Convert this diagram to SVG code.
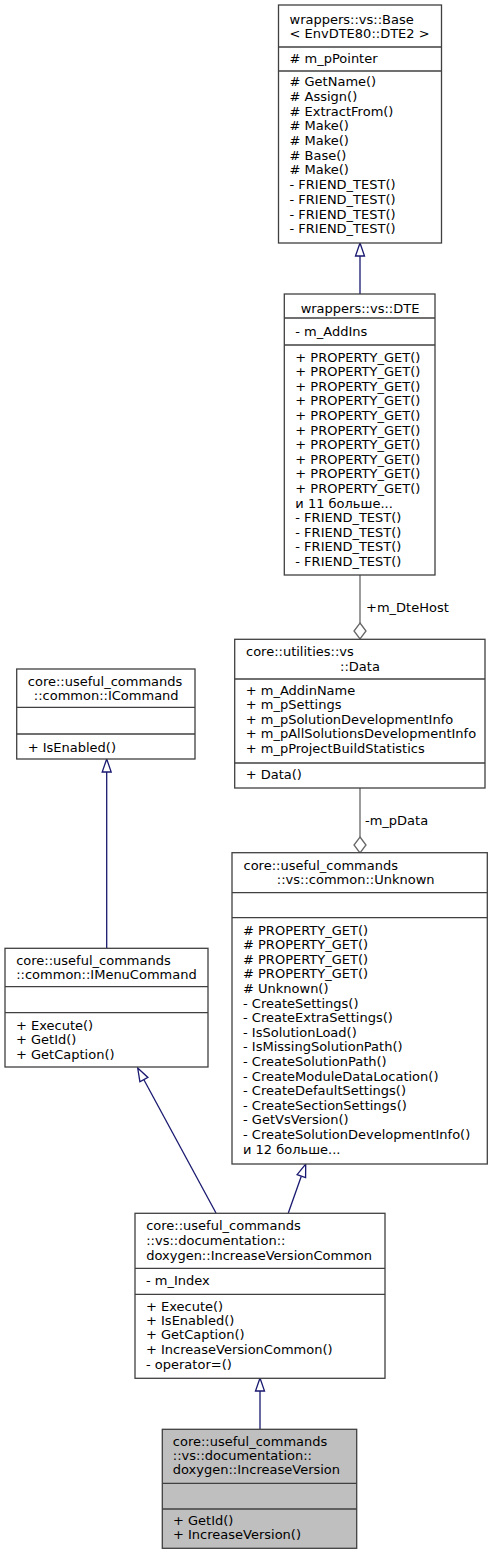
<svg xmlns="http://www.w3.org/2000/svg" width="493" height="1555" viewBox="0 0 493 1555">
<style>
text{font-family:"DejaVu Sans","Liberation Sans",sans-serif;font-size:13px;fill:#000}
.box{fill:#fff;stroke:#404040;stroke-width:1.3}
.cur{fill:#bfbfbf;stroke:#404040;stroke-width:1.3}
.sep{stroke:#404040;stroke-width:1.3}
.inh{stroke:#191970;stroke-width:1.3;fill:none}
.tri{stroke:#191970;stroke-width:1.3;fill:#fff}
.agg{stroke:#666;stroke-width:1.3;fill:none}
.dia{stroke:#666;stroke-width:1.3;fill:#fff}
.m{text-anchor:middle}
</style>
<rect width="493" height="1555" fill="#fff"/>
<g id="connectors">
<line class="inh" x1="360" y1="256" x2="360" y2="294"/>
<polygon class="tri" points="360,243 355.5,256 364.5,256"/>
<line class="agg" x1="360" y1="575" x2="360" y2="623"/>
<polygon class="dia" points="360,623 366,631 360,639 354,631"/>
<text x="366" y="611.5">+m_DteHost</text>
<line class="agg" x1="360" y1="788" x2="360" y2="837"/>
<polygon class="dia" points="360,837 366,845 360,853 354,845"/>
<text x="365" y="824.5">-m_pData</text>
<line class="inh" x1="106.7" y1="772" x2="106.7" y2="948"/>
<polygon class="tri" points="106.7,759 102.2,772 111.2,772"/>
<line class="inh" x1="216" y1="1213" x2="143.9" y2="1079.7"/>
<polygon class="tri" points="137.7,1068 147.9,1077.4 139.9,1081.7"/>
<line class="inh" x1="288.3" y1="1213" x2="301.3" y2="1176.2"/>
<polygon class="tri" points="305.7,1164 305.6,1177.7 297.1,1174.7"/>
<line class="inh" x1="260" y1="1391" x2="260" y2="1429"/>
<polygon class="tri" points="260,1378 255.5,1391 264.5,1391"/>
</g>
<g id="node-base">
<rect class="box" x="278.5" y="5" width="163" height="238"/>
<line class="sep" x1="278.5" y1="47" x2="441.5" y2="47"/>
<line class="sep" x1="278.5" y1="71" x2="441.5" y2="71"/>
<text x="289.5" y="23.5">wrappers::vs::Base</text>
<text x="289.5" y="38">&lt; EnvDTE80::DTE2 &gt;</text>
<text x="289.5" y="62.5"># m_pPointer</text>
<text x="289.5" y="86.2"># GetName()</text>
<text x="289.5" y="100.9"># Assign()</text>
<text x="289.5" y="115.6"># ExtractFrom()</text>
<text x="289.5" y="130.3"># Make()</text>
<text x="289.5" y="145"># Make()</text>
<text x="289.5" y="159.7"># Base()</text>
<text x="289.5" y="174.4"># Make()</text>
<text x="289.5" y="189.1">- FRIEND_TEST()</text>
<text x="289.5" y="203.8">- FRIEND_TEST()</text>
<text x="289.5" y="218.5">- FRIEND_TEST()</text>
<text x="289.5" y="233.2">- FRIEND_TEST()</text>
</g>
<g id="node-dte">
<rect class="box" x="284.3" y="294" width="150.7" height="281"/>
<line class="sep" x1="284.3" y1="318" x2="435" y2="318"/>
<line class="sep" x1="284.3" y1="345" x2="435" y2="345"/>
<text class="m" x="360" y="312.5">wrappers::vs::DTE</text>
<text x="295.3" y="335.5">- m_AddIns</text>
<text x="295.3" y="361.5">+ PROPERTY_GET()</text>
<text x="295.3" y="376.1">+ PROPERTY_GET()</text>
<text x="295.3" y="390.7">+ PROPERTY_GET()</text>
<text x="295.3" y="405.3">+ PROPERTY_GET()</text>
<text x="295.3" y="419.9">+ PROPERTY_GET()</text>
<text x="295.3" y="434.5">+ PROPERTY_GET()</text>
<text x="295.3" y="449.1">+ PROPERTY_GET()</text>
<text x="295.3" y="463.7">+ PROPERTY_GET()</text>
<text x="295.3" y="478.3">+ PROPERTY_GET()</text>
<text x="295.3" y="492.9">+ PROPERTY_GET()</text>
<text x="295.3" y="507.5">и 11 больше...</text>
<text x="295.3" y="522.1">- FRIEND_TEST()</text>
<text x="295.3" y="536.7">- FRIEND_TEST()</text>
<text x="295.3" y="551.3">- FRIEND_TEST()</text>
<text x="295.3" y="565.9">- FRIEND_TEST()</text>
</g>
<g id="node-data">
<rect class="box" x="234.7" y="639.3" width="250.3" height="148.7"/>
<line class="sep" x1="234.7" y1="679" x2="485" y2="679"/>
<line class="sep" x1="234.7" y1="763" x2="485" y2="763"/>
<text x="246" y="656.2">core::utilities::vs</text>
<text class="m" x="360" y="670.5">::Data</text>
<text x="245.7" y="694.5">+ m_AddinName</text>
<text x="245.7" y="709.1">+ m_pSettings</text>
<text x="245.7" y="723.7">+ m_pSolutionDevelopmentInfo</text>
<text x="245.7" y="738.3">+ m_pAllSolutionsDevelopmentInfo</text>
<text x="245.7" y="752.9">+ m_pProjectBuildStatistics</text>
<text x="245.7" y="778.5">+ Data()</text>
</g>
<g id="node-unknown">
<rect class="box" x="232" y="852.7" width="255.3" height="311.3"/>
<line class="sep" x1="232" y1="892.7" x2="487.3" y2="892.7"/>
<line class="sep" x1="232" y1="917.7" x2="487.3" y2="917.7"/>
<text x="243.5" y="869.5">core::useful_commands</text>
<text x="276.8" y="883.8">::vs::common::Unknown</text>
<text x="243" y="934.5"># PROPERTY_GET()</text>
<text x="243" y="949.1"># PROPERTY_GET()</text>
<text x="243" y="963.7"># PROPERTY_GET()</text>
<text x="243" y="978.3"># PROPERTY_GET()</text>
<text x="243" y="992.9"># Unknown()</text>
<text x="243" y="1007.5">- CreateSettings()</text>
<text x="243" y="1022.1">- CreateExtraSettings()</text>
<text x="243" y="1036.7">- IsSolutionLoad()</text>
<text x="243" y="1051.3">- IsMissingSolutionPath()</text>
<text x="243" y="1065.9">- CreateSolutionPath()</text>
<text x="243" y="1080.5">- CreateModuleDataLocation()</text>
<text x="243" y="1095.1">- CreateDefaultSettings()</text>
<text x="243" y="1109.7">- CreateSectionSettings()</text>
<text x="243" y="1124.3">- GetVsVersion()</text>
<text x="243" y="1138.9">- CreateSolutionDevelopmentInfo()</text>
<text x="243" y="1153.5">и 12 больше...</text>
</g>
<g id="node-icommand">
<rect class="box" x="16.7" y="669" width="178.3" height="90"/>
<line class="sep" x1="16.7" y1="707.3" x2="195" y2="707.3"/>
<line class="sep" x1="16.7" y1="734" x2="195" y2="734"/>
<text x="27.8" y="685.7">core::useful_commands</text>
<text x="33.8" y="699.5">::common::ICommand</text>
<text x="27.7" y="751.7">+ IsEnabled()</text>
</g>
<g id="node-imenucommand">
<rect class="box" x="5" y="948.3" width="203" height="118.7"/>
<line class="sep" x1="5" y1="986.7" x2="208" y2="986.7"/>
<line class="sep" x1="5" y1="1012.7" x2="208" y2="1012.7"/>
<text x="16.2" y="964.5">core::useful_commands</text>
<text x="16.2" y="979">::common::IMenuCommand</text>
<text x="16" y="1029.5">+ Execute()</text>
<text x="16" y="1044.2">+ GetId()</text>
<text x="16" y="1058.5">+ GetCaption()</text>
</g>
<g id="node-increaseversioncommon">
<rect class="box" x="135" y="1213.3" width="250" height="165"/>
<line class="sep" x1="135" y1="1268.3" x2="385" y2="1268.3"/>
<line class="sep" x1="135" y1="1294.3" x2="385" y2="1294.3"/>
<text x="146.2" y="1230.2">core::useful_commands</text>
<text x="146.2" y="1244.5">::vs::documentation::</text>
<text x="146.2" y="1259.5">doxygen::IncreaseVersionCommon</text>
<text x="146" y="1285.2">- m_Index</text>
<text x="146" y="1310.5">+ Execute()</text>
<text x="146" y="1325.2">+ IsEnabled()</text>
<text x="146" y="1339.2">+ GetCaption()</text>
<text x="146" y="1353.5">+ IncreaseVersionCommon()</text>
<text x="146" y="1368.5">- operator=()</text>
</g>
<g id="node-increaseversion">
<rect class="cur" x="162.3" y="1429.3" width="194.4" height="119"/>
<line class="sep" x1="162.3" y1="1483.3" x2="356.7" y2="1483.3"/>
<line class="sep" x1="162.3" y1="1509" x2="356.7" y2="1509"/>
<text x="172.8" y="1445.5">core::useful_commands</text>
<text x="172.8" y="1459.5">::vs::documentation::</text>
<text x="172.8" y="1473.8">doxygen::IncreaseVersion</text>
<text x="173" y="1524.5">+ GetId()</text>
<text x="173" y="1538.8">+ IncreaseVersion()</text>
</g>
</svg>
